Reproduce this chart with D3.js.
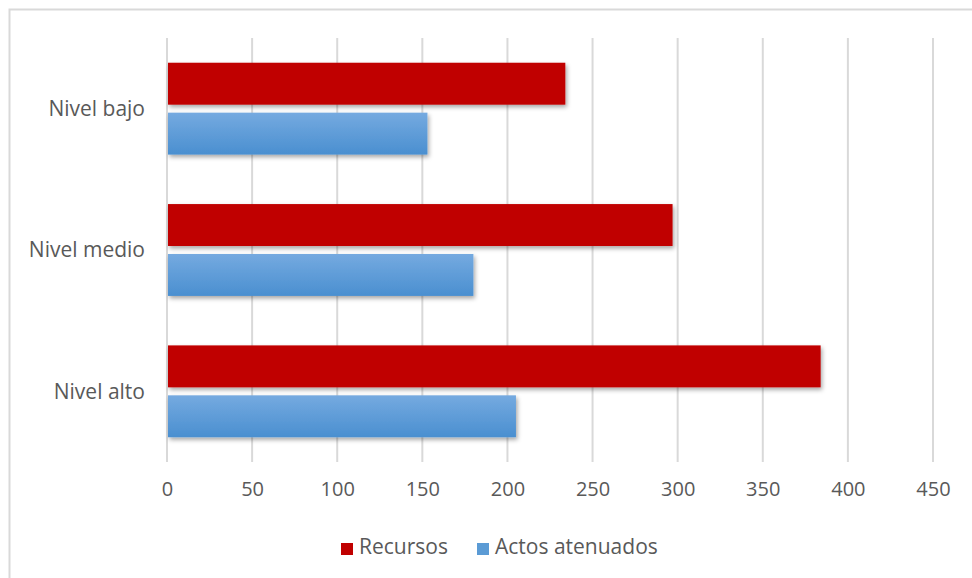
<!DOCTYPE html>
<meta charset="utf-8">
<style>
body { margin: 0; background: #fff; }
.tick text, .cat, .legend text {
  font-family: "Open Sans", sans-serif;
  fill: #595959;
}
.axis--x path, .axis--x line { display: none; }
.grid line { stroke: #d9d9d9; stroke-width: 2; }
</style>
<svg width="972" height="578"></svg>
<script src="https://d3js.org/d3.v7.min.js"></script>
<script>

var categories = ["Nivel bajo", "Nivel medio", "Nivel alto"];
var series = ["Recursos", "Actos atenuados"];
var recursos = [234, 297, 384];
var actos = [153, 180, 205];
var xTicks = [0, 50, 100, 150, 200, 250, 300, 350, 400, 450];

var data = categories.map(function(c, i) {
  return {cat: c, values: [recursos[i], actos[i]]};
});

var svg = d3.select("svg");

// outer frame
svg.append("rect")
    .attr("x", 9.5).attr("y", 9.5)
    .attr("width", 980).attr("height", 600)
    .attr("fill", "none")
    .attr("stroke", "#d9d9d9")
    .attr("stroke-width", 2);

var defs = svg.append("defs");
var f = defs.append("filter").attr("id", "shadow")
    .attr("x", "-5%").attr("y", "-20%").attr("width", "110%").attr("height", "160%");
f.append("feDropShadow")
    .attr("dx", 1.5).attr("dy", 2.5).attr("stdDeviation", 2)
    .attr("flood-color", "#000").attr("flood-opacity", 0.35);

var grad = defs.append("linearGradient").attr("id", "blueGrad")
    .attr("x1", 0).attr("y1", 0).attr("x2", 0).attr("y2", 1);
grad.append("stop").attr("offset", "0%").attr("stop-color", "#75aae0");
grad.append("stop").attr("offset", "100%").attr("stop-color", "#4a8fd0");

var colors = ["#c00000", "url(#blueGrad)"];
var legendColors = ["#c00000", "#5b9bd5"];

var x = d3.scaleLinear().domain([0, 450]).range([167, 933]);
var y = d3.scaleBand().domain(categories).range([38, 462])
    .paddingInner(0.35).paddingOuter(0.175);
var y1 = d3.scaleBand().domain(d3.range(series.length))
    .range([0, y.bandwidth()]).paddingInner(0.16);

// gridlines
svg.append("g").attr("class", "grid")
  .selectAll("line")
  .data(xTicks)
  .enter().append("line")
    .attr("x1", function(d) { return x(d); })
    .attr("x2", function(d) { return x(d); })
    .attr("y1", 38).attr("y2", 462);

// x axis labels
svg.append("g")
    .attr("class", "axis axis--x")
    .attr("transform", "translate(0,482)")
    .call(d3.axisBottom(x).tickValues(xTicks).tickSize(0).tickPadding(0))
    .selectAll("text")
    .style("font-size", "20px");

// category labels
svg.append("g").selectAll("text")
  .data(categories)
  .enter().append("text")
    .attr("class", "cat")
    .attr("x", 145)
    .attr("y", function(d) { return y(d) + y.bandwidth() / 2; })
    .attr("dy", "0.35em")
    .attr("text-anchor", "end")
    .style("font-size", "21px")
    .text(function(d) { return d; });

// bars
var groups = svg.append("g").selectAll("g")
  .data(data)
  .enter().append("g")
    .attr("transform", function(d) { return "translate(0," + y(d.cat) + ")"; });

groups.selectAll("rect")
  .data(function(d) { return d.values; })
  .enter().append("rect")
    .attr("x", x(0) + 1)
    .attr("y", function(d, i) { return y1(i); })
    .attr("width", function(d) { return x(d) - x(0) - 1; })
    .attr("height", y1.bandwidth())
    .attr("fill", function(d, i) { return colors[i]; })
    .attr("filter", "url(#shadow)");

// legend
var legend = svg.append("g").attr("class", "legend");
var legendX = [341, 477];
series.forEach(function(s, i) {
  legend.append("rect")
      .attr("x", legendX[i]).attr("y", 543)
      .attr("width", 12).attr("height", 12)
      .attr("fill", legendColors[i]);
  legend.append("text")
      .attr("x", legendX[i] + 18).attr("y", 547)
      .attr("dy", "0.35em")
      .style("font-size", "21px")
      .text(s);
});

</script>
